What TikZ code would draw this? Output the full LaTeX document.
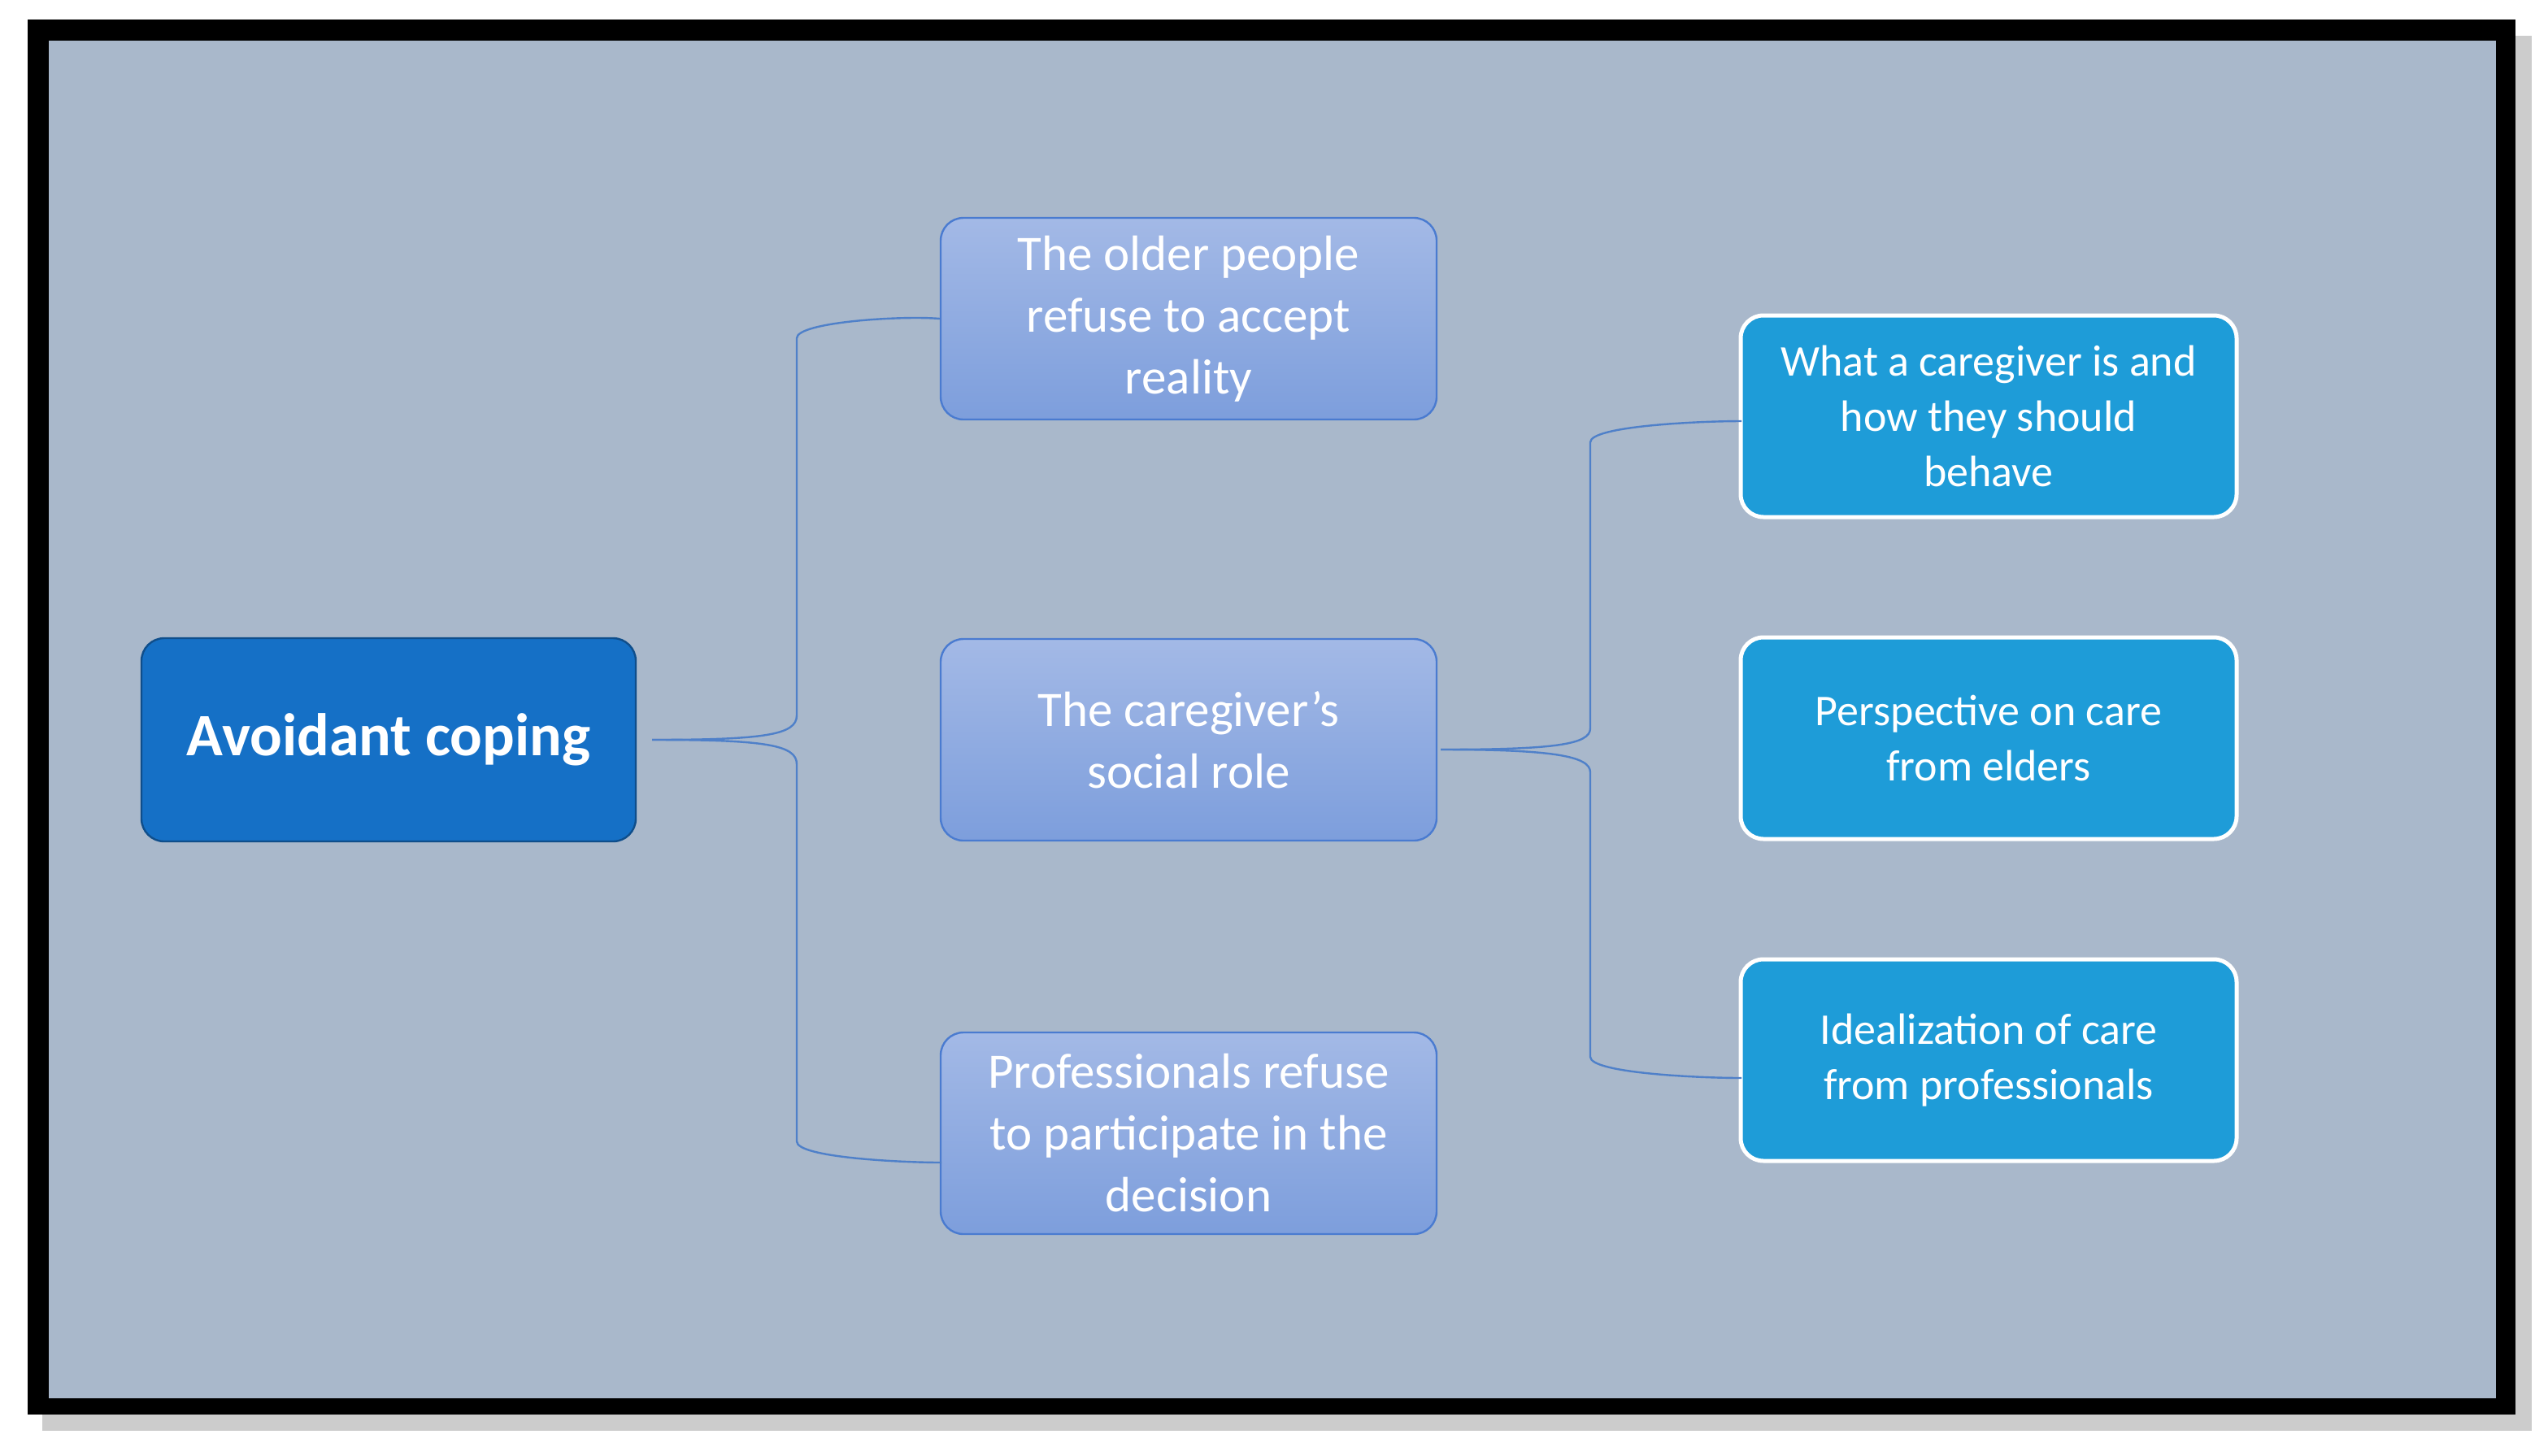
\documentclass[tikz,border=0pt]{standalone}
\usepackage{fontspec}
\setmainfont{Carlito}
\begin{document}
\begin{tikzpicture}[x=1pt,y=-1pt,
  mid/.style={draw=midline,line width=1.2pt,rounded corners=14pt,top color=midtop,bottom color=midbot,minimum width=305pt,minimum height=124pt,align=center,text=white,font=\fontsize{30.5}{38}\selectfont},
  rgt/.style={draw=white,line width=2.5pt,rounded corners=14pt,fill=rfill,minimum width=305pt,minimum height=124pt,align=center,text=white,font=\fontsize{27}{34}\selectfont},
  link/.style={draw=linkc,line width=1.2pt}]
\definecolor{bg}{HTML}{A9B8CB}
\definecolor{midline}{HTML}{4A7BD0}
\definecolor{midtop}{HTML}{A3B9E6}
\definecolor{midbot}{HTML}{7D9EDC}
\definecolor{rfill}{HTML}{1E9CD8}
\definecolor{afill}{HTML}{1570C6}
\definecolor{linkc}{HTML}{4F80C9}
\useasboundingbox (0,0) rectangle (1567,895);
\fill[gray!40] (26,22) rectangle (1557,880);
\fill[black] (17,12) rectangle (1547,870);
\fill[bg] (30,25) rectangle (1535,860);
\node[draw=afill!70!black,line width=1.2pt,rounded corners=14pt,fill=afill,minimum width=304pt,minimum height=125pt,text=white,font=\bfseries\fontsize{37}{44}\selectfont] (A) at (239,455) {Avoidant coping};
\node[mid] (m1) at (731,196) {The older people\\refuse to accept\\reality};
\node[mid] (m2) at (731,455) {The caregiver’s\\social role};
\node[mid] (m3) at (731,697) {Professionals refuse\\to participate in the\\decision};
\node[rgt] (r1) at (1223,256) {What a caregiver is and\\how they should\\behave};
\node[rgt] (r2) at (1223,454) {Perspective on care\\from elders};
\node[rgt] (r3) at (1223,652) {Idealization of care\\from professionals};
\coordinate (a0) at (401,455);
\coordinate (b0) at (886,461);
\draw[link] (a0) .. controls (470,455) and (490,452) .. (490,440) -- (490,208) .. controls (490,198) and (555,194) .. (m1.west);
\draw[link] (a0) .. controls (470,455) and (490,458) .. (490,470) -- (490,702) .. controls (490,712) and (555,715) .. (579,715) -- (m3.west |- 0,715);
\draw[link] (b0) .. controls (955,461) and (978,458) .. (978,448) -- (978,272) .. controls (978,262) and (1045,259) .. (1071,259);
\draw[link] (b0) .. controls (955,461) and (978,465) .. (978,475) -- (978,650) .. controls (978,660) and (1045,663) .. (1071,663);
\end{tikzpicture}
\end{document}
